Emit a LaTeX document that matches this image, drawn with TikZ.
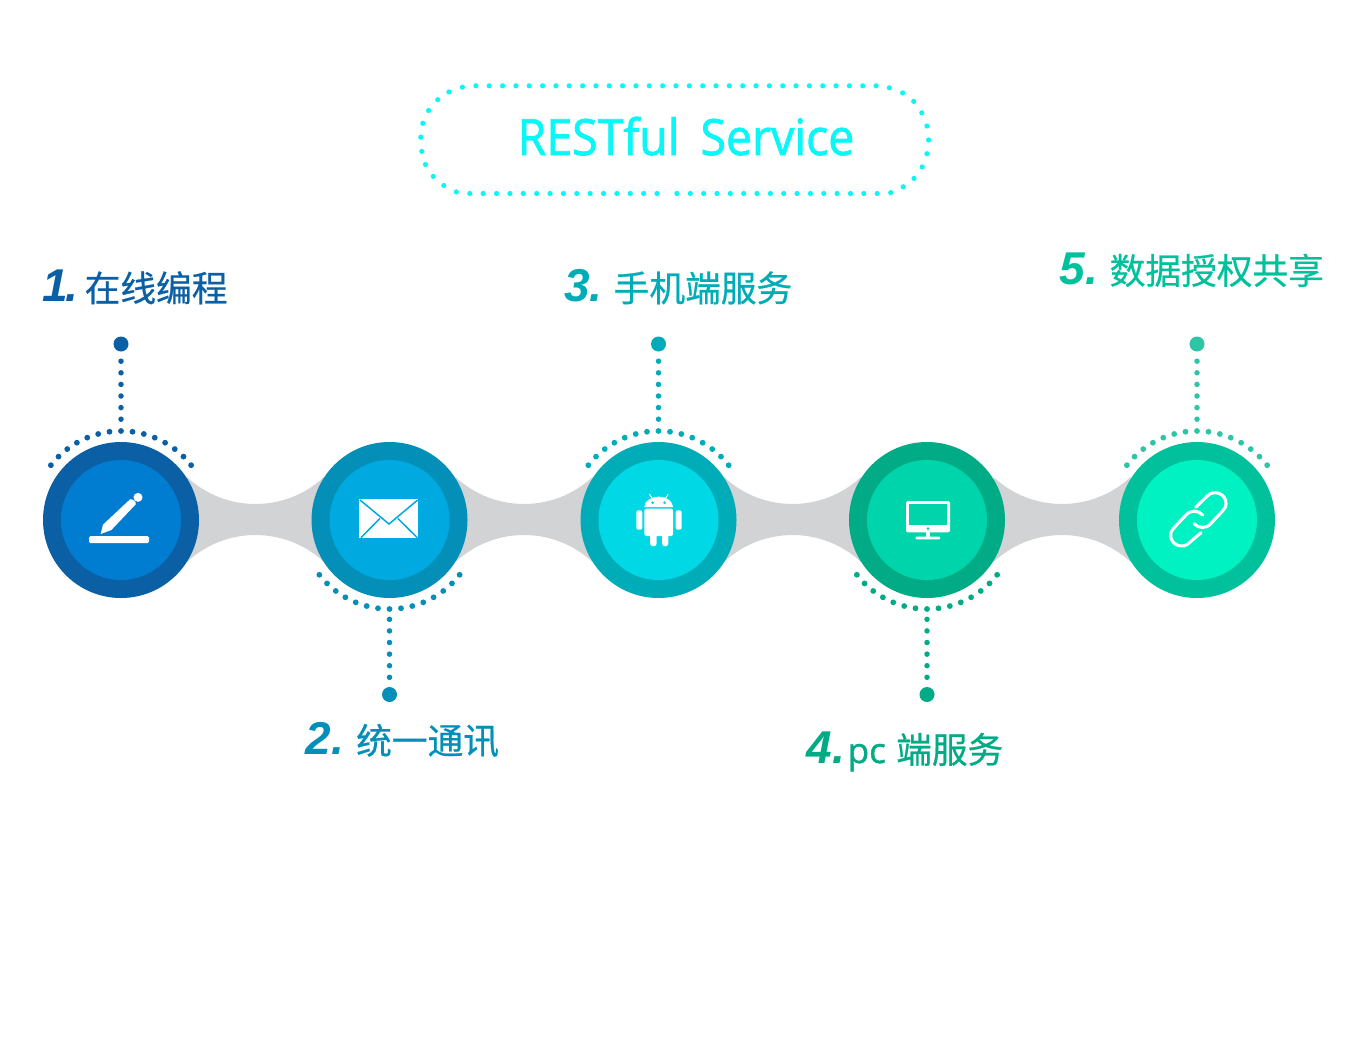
\documentclass[tikz,border=0pt]{standalone}
\usepackage{graphicx}
\usepackage{fontspec}
\setmainfont{Open Sans}
\newfontfamily\cjkf{Noto Sans CJK SC}[FakeBold=0.6]
\newfontfamily\numf{Liberation Sans}[BoldItalicFont={Liberation Sans Bold Italic}]
\newfontfamily\titlef{Open Sans}[FakeStretch=0.93,FakeBold=1.5]
\newfontfamily\pcf{Open Sans}[FakeBold=1.2]
\definecolor{aO}{HTML}{0B5FA5}\definecolor{aI}{HTML}{007DD1}
\definecolor{bO}{HTML}{038FB8}\definecolor{bI}{HTML}{00A9E0}
\definecolor{cO}{HTML}{00ACB8}\definecolor{cI}{HTML}{00D8E5}
\definecolor{dO}{HTML}{00AB85}\definecolor{dI}{HTML}{00D4AA}
\definecolor{eO}{HTML}{00C19B}\definecolor{eI}{HTML}{00F2C3}
\definecolor{eD}{HTML}{2DC5A5}
\definecolor{linkgrey}{HTML}{D1D3D4}
\definecolor{titlec}{HTML}{0AF7F7}
\newcommand{\lbl}[3]{\makebox[#2pt][l]{\fontsize{46}{46}\numf\bfseries\itshape #1}{\fontsize{35.7}{36}\cjkf #3}}
\tikzset{
  outerc/.style={circle,minimum size=156pt,inner sep=0pt,fill=#1},
  innerc/.style={circle,minimum size=120pt,inner sep=0pt,fill=#1},
  pin/.style={circle,minimum size=15pt,inner sep=0pt,fill=#1},
  vdots/.style={draw=#1,line width=5.5pt,line cap=round,dash pattern=on 0pt off 11.6pt},
  lab/.style={anchor=base west,inner sep=0pt,text=#1},
}
\begin{document}
\begin{tikzpicture}[x=1pt,y=-1pt]
\useasboundingbox (0,0) rectangle (1351,1058);
\fill[white] (0,0) rectangle (1351,1058);

% grey links
\foreach \m in {255.5,524,792.5,1062}{
  \fill[linkgrey] (\m-68.5,477) .. controls (\m-30,513) and (\m+30,513) .. (\m+68.5,477)
    -- (\m+68.5,562) .. controls (\m+30,526) and (\m-30,526) .. (\m-68.5,562) -- cycle;
}

% circles
\foreach \n/\x/\o/\i in {1/121/aO/aI,2/389.5/bO/bI,3/658.5/cO/cI,4/927/dO/dI,5/1197/eO/eI}{
  \node[outerc=\o] (c\n) at (\x,520) {};
  \node[innerc=\i] (i\n) at (\x,520) {};
}

% dotted arcs
\foreach \k in {0,...,14}{
  \pgfmathsetmacro{\ang}{38+\k*104/14}
  \foreach \cx/\col in {121/aO,658.5/cO,1197/eD}{
    \fill[\col] ({\cx+89*cos(\ang)},{520-89*sin(\ang)}) circle (2.9);
  }
  \foreach \cx/\col in {389.5/bO,927/dO}{
    \fill[\col] ({\cx+89*cos(\ang)},{520+89*sin(\ang)}) circle (2.9);
  }
}

% pins and dotted connectors
\node[pin=aO] (p1) at (121,344) {};
\node[pin=bO] (p2) at (389.5,694.5) {};
\node[pin=cO] (p3) at (658.5,344) {};
\node[pin=dO] (p4) at (927,694.5) {};
\node[pin=eD] (p5) at (1197,344) {};
\coordinate (a1) at (121,425);
\coordinate (a2) at (389.5,614);
\coordinate (a3) at (658.5,425);
\coordinate (a4) at (927,614);
\coordinate (a5) at (1197,425);
\draw[vdots=aO,dash phase=2.1pt] (p1.south) -- (a1);
\draw[vdots=cO,dash phase=2.1pt] (p3.south) -- (a3);
\draw[vdots=eD,dash phase=2.1pt] (p5.south) -- (a5);
\draw[vdots=bO,dash phase=2.1pt] (p2.north) -- (a2);
\draw[vdots=dO,dash phase=2.1pt] (p4.north) -- (a4);

% pen icon
\begin{scope}[shift={(30,420)},scale=0.33333]
  \fill[white,rounded corners=1.5pt] (177,348) rectangle (357,369);
  \fill[white] (212,342) -- (219,314) -- (300,238) .. controls (308,236) and (320,245) .. (317,253) -- (244,330) -- cycle;
  \fill[white] (324,232) circle (13.5);
\end{scope}

% envelope icon
\begin{scope}[shift={(30,420)},scale=0.33333]
  \fill[white] (988,238) rectangle (1165,355);
  \draw[bI,line width=1.5pt] (990,240) -- (1077,312) -- (1163,240);
  \draw[bI,line width=1.5pt] (993,353) -- (1050,295);
  \draw[bI,line width=1.5pt] (1162,353) -- (1103,295);
\end{scope}

% android icon
\begin{scope}[shift={(570,420)},scale=0.33333]
  \fill[white] (223,261) arc[start angle=180,end angle=360,x radius=43,y radius=31] -- cycle;
  \fill[white,rounded corners=2pt] (223,266) rectangle (309,348);
  \fill[white,rounded corners=2pt] (199,271) rectangle (217,329);
  \fill[white,rounded corners=2pt] (317,271) rectangle (335,329);
  \fill[white,rounded corners=3pt] (240,330) rectangle (260,379);
  \fill[white,rounded corners=3pt] (276,330) rectangle (295,379);
  \fill[cI] (248,248) circle (4.5);
  \fill[cI] (284,248) circle (4.5);
  \draw[white,line width=0.9pt] (238,222) -- (247,236);
  \draw[white,line width=0.9pt] (295,222) -- (286,236);
\end{scope}

% monitor icon
\begin{scope}[shift={(570,420)},scale=0.33333]
  \fill[white,rounded corners=1.5pt] (1008,243) rectangle (1140,337);
  \fill[dI] (1016,251) rectangle (1132,316);
  \fill[dI] (1074,326) circle (4.5);
  \fill[white] (1067,335) rectangle (1081,352);
  \fill[white,rounded corners=0.7pt] (1037,350) rectangle (1110,358);
\end{scope}

% link icon
\begin{scope}[shift={(1100,420)},scale=0.33333]
  \draw[white,line width=3.1pt,line cap=round]
    (287,262) -- (322,228) .. controls (340,208) and (378,220) .. (378,250)
    .. controls (378,262) and (372,268) .. (365,276) -- (333,310)
    .. controls (318,328) and (295,325) .. (282,311);
  \draw[white,line width=3.1pt,line cap=round]
    (303,338) -- (268,368) .. controls (250,388) and (212,376) .. (212,346)
    .. controls (212,334) and (218,328) .. (225,320) -- (257,286)
    .. controls (272,268) and (295,271) .. (308,285);
\end{scope}

% title dots
\foreach \k in {0,...,30}{ \fill[titlec] ({475.9+\k*13.34},85.8) circle (2.6); }
\foreach \k in {0,...,14}{ \fill[titlec] ({469.8+\k*13.37},193.5) circle (2.6); }
\foreach \k in {0,...,15}{ \fill[titlec] ({676.9+\k*13.35},193.5) circle (2.6); }
\foreach \px/\py in {462.4/87.2,448.9/91.9,437.7/99.7,428.6/110.5,422.8/123.3,420.8/137.2,421.8/151.4,425.5/164.5,433.3/176.4,443.8/185.5,456.3/191.9,
  889.4/87.8,902.6/92.9,913.7/101.4,921.8/112.8,926.9/126,928.6/139.9,926.9/153.7,922.2/166.9,914/178.4,903.2/186.8,890.7/192.6}{
  \fill[titlec] (\px,\py) circle (2.6);
}
\node[anchor=base,inner sep=0pt,text=titlec] (title) at (686,155)
  {\fontsize{50}{50}\titlef RESTful\hspace{0.42em}Service};

% labels
\node[lab=aO] (l1) at (42,301.5) {\lbl{1\kern-2.5pt.}{42.5}{在线编程}};
\node[lab=bO] (l2) at (305.5,754) {\lbl{2.}{50.5}{统一通讯}};
\node[lab=cO] (l3) at (564,301.5) {\lbl{3.}{49.5}{手机端服务}};
\node[lab=dO] (l4) at (806,763) {\lbl{4\kern1pt.}{41.5}{\makebox[48.5pt][l]{\fontsize{35}{35}\pcf pc}端服务}};
\node[lab=eO] (l5) at (1059.5,284) {\lbl{5.}{50}{数据授权共享}};
\end{tikzpicture}
\end{document}
